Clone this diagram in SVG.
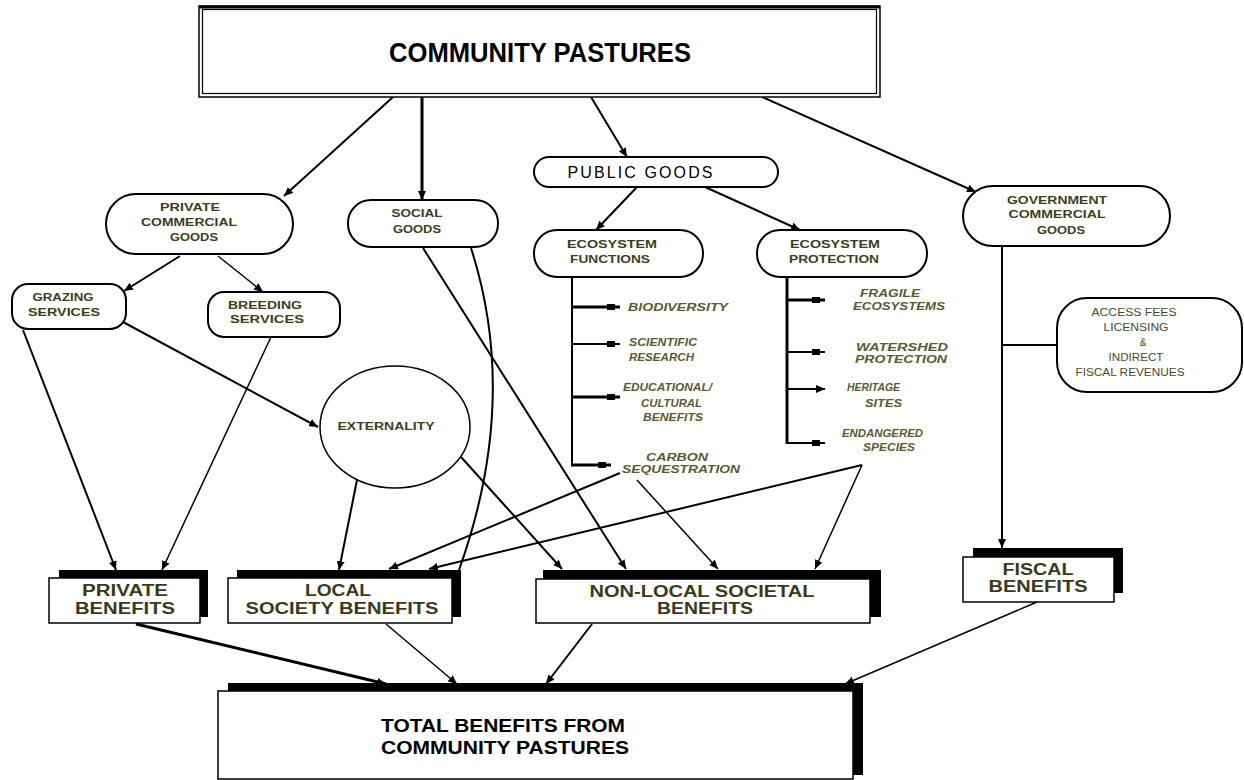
<svg xmlns="http://www.w3.org/2000/svg" width="1244" height="780" viewBox="0 0 1244 780">
<style>
.bg{fill:#fff}
.node{fill:#fff;stroke:#000;stroke-width:2}
.box{fill:#fff;stroke:#000;stroke-width:1.5}
.shadow{fill:#000}
.lbl{font-family:"Liberation Sans",Arial,sans-serif;font-weight:bold;font-size:11px;fill:#3e3e1c;text-anchor:middle}
.acc{font-family:"Liberation Sans",Arial,sans-serif;font-size:10px;fill:#4a4a2a;text-anchor:middle}
.ital{font-family:"Liberation Sans",Arial,sans-serif;font-weight:bold;font-style:italic;font-size:10px;fill:#5a5a30}
.big{font-family:"Liberation Sans",Arial,sans-serif;font-weight:bold;font-size:16px;fill:#3a3a18;text-anchor:middle}
.blk{font-family:"Liberation Sans",Arial,sans-serif;font-weight:bold;fill:#000;text-anchor:middle}
.c{fill:none;stroke:#000;stroke-width:2}
.t1{stroke-width:1.5}
.t3{stroke-width:3}
</style>
<defs>
<marker id="ah" markerUnits="userSpaceOnUse" markerWidth="9" markerHeight="8" refX="9" refY="4" orient="auto">
<path d="M0,0 L9,4 L0,8 z" fill="#000"/>
</marker>
<marker id="sq" markerUnits="userSpaceOnUse" markerWidth="14" markerHeight="7" refX="13" refY="3.5" orient="auto">
<path d="M0,0.5 h8 v6 h-8 z" fill="#000"/>
</marker>
</defs>
<rect class="bg" x="0" y="0" width="1244" height="780"/>

<g id="connectors">
<line class="c" x1="393" y1="97" x2="284" y2="196" marker-end="url(#ah)"/>
<line class="c t3" x1="422" y1="97" x2="422" y2="200" marker-end="url(#ah)"/>
<line class="c" x1="591" y1="97" x2="627" y2="157" marker-end="url(#ah)"/>
<line class="c" x1="762" y1="97" x2="976" y2="192" marker-end="url(#ah)"/>
<line class="c" x1="637" y1="187" x2="596" y2="230" marker-end="url(#ah)"/>
<line class="c" x1="705" y1="187" x2="800" y2="230" marker-end="url(#ah)"/>
<line class="c" x1="180" y1="256" x2="124" y2="291" marker-end="url(#ah)"/>
<line class="c t1" x1="218" y1="256" x2="263" y2="292" marker-end="url(#ah)"/>
<line class="c" x1="123" y1="322" x2="318" y2="427" marker-end="url(#ah)"/>
<line class="c" x1="23" y1="330" x2="116" y2="570" marker-end="url(#ah)"/>
<line class="c t1" x1="271" y1="337" x2="162" y2="570" marker-end="url(#ah)"/>
<line class="c" x1="357" y1="480" x2="339" y2="570" marker-end="url(#ah)"/>
<line class="c" x1="461" y1="457" x2="562" y2="569" marker-end="url(#ah)"/>
<line class="c" x1="423" y1="248" x2="626" y2="569" marker-end="url(#ah)"/>
<path class="c" d="M471,248 Q520,400 459,570"/>
<line class="c" x1="620" y1="473" x2="389" y2="569" marker-end="url(#ah)"/>
<line class="c" x1="862" y1="465" x2="429" y2="569" marker-end="url(#ah)"/>
<line class="c t1" x1="637" y1="480" x2="718" y2="569" marker-end="url(#ah)"/>
<line class="c t1" x1="862" y1="465" x2="815" y2="569" marker-end="url(#ah)"/>
<line class="c" x1="1002" y1="246" x2="1002" y2="548" marker-end="url(#ah)"/>
<line class="c" x1="1002" y1="345" x2="1057" y2="345"/>
<line class="c t3" x1="136" y1="624" x2="386" y2="684" marker-end="url(#ah)"/>
<line class="c t1" x1="386" y1="624" x2="457" y2="684" marker-end="url(#ah)"/>
<line class="c" x1="592" y1="624" x2="546" y2="684" marker-end="url(#ah)"/>
<line class="c t1" x1="1037" y1="602" x2="845" y2="684" marker-end="url(#ah)"/>
<!-- ecosystem functions tree -->
<line class="c" x1="572" y1="277" x2="572" y2="466"/>
<line class="c t3" x1="571" y1="307" x2="620" y2="307" marker-end="url(#sq)"/>
<line class="c" x1="571" y1="344" x2="620" y2="344" marker-end="url(#sq)"/>
<line class="c t3" x1="571" y1="397" x2="620" y2="397" marker-end="url(#sq)"/>
<line class="c t3" x1="571" y1="465" x2="611" y2="465" marker-end="url(#sq)"/>
<!-- ecosystem protection tree -->
<line class="c t3" x1="787" y1="277" x2="787" y2="444"/>
<line class="c t3" x1="786" y1="300" x2="825" y2="300" marker-end="url(#sq)"/>
<line class="c" x1="786" y1="352" x2="825" y2="352" marker-end="url(#sq)"/>
<line class="c" x1="786" y1="389" x2="825" y2="389" marker-end="url(#ah)"/>
<line class="c" x1="786" y1="443" x2="825" y2="443" marker-end="url(#sq)"/>
</g>

<g id="community-pastures">
<rect x="199" y="6" width="681" height="91" fill="#fff" stroke="#000" stroke-width="1.5"/>
<rect x="202.5" y="9.5" width="674" height="84" fill="none" stroke="#000" stroke-width="1.2"/>
<line x1="199" y1="7" x2="880" y2="7" stroke="#000" stroke-width="3"/>
<text class="blk" x="540" y="62" font-size="27" textLength="302" lengthAdjust="spacingAndGlyphs">COMMUNITY PASTURES</text>
</g>

<g id="private-commercial-goods">
<rect class="node" x="106" y="194" width="187" height="60" rx="30"/>
<text class="lbl" x="190" y="211" textLength="60" lengthAdjust="spacingAndGlyphs">PRIVATE</text>
<text class="lbl" x="189" y="226" textLength="96" lengthAdjust="spacingAndGlyphs">COMMERCIAL</text>
<text class="lbl" x="194" y="241" textLength="48" lengthAdjust="spacingAndGlyphs">GOODS</text>
</g>

<g id="social-goods">
<rect class="node" x="348" y="200" width="150" height="47" rx="23"/>
<text class="lbl" x="417" y="217" textLength="51" lengthAdjust="spacingAndGlyphs">SOCIAL</text>
<text class="lbl" x="417" y="233" textLength="48" lengthAdjust="spacingAndGlyphs">GOODS</text>
</g>

<g id="public-goods">
<rect class="node" x="534" y="157" width="244" height="30" rx="15"/>
<text class="blk" x="640" y="178" font-size="16" font-weight="normal" style="font-weight:normal" textLength="145" lengthAdjust="spacing">PUBLIC GOODS</text>
</g>

<g id="government-commercial-goods">
<rect class="node" x="963" y="186" width="207" height="60" rx="30"/>
<text class="lbl" x="1057" y="204" textLength="100" lengthAdjust="spacingAndGlyphs">GOVERNMENT</text>
<text class="lbl" x="1057" y="218" textLength="97" lengthAdjust="spacingAndGlyphs">COMMERCIAL</text>
<text class="lbl" x="1061" y="234" textLength="48" lengthAdjust="spacingAndGlyphs">GOODS</text>
</g>

<g id="grazing-services">
<rect class="node" x="12" y="284" width="114" height="45" rx="16"/>
<text class="lbl" x="63" y="301" textLength="61" lengthAdjust="spacingAndGlyphs">GRAZING</text>
<text class="lbl" x="64" y="316" textLength="72" lengthAdjust="spacingAndGlyphs">SERVICES</text>
</g>

<g id="breeding-services">
<rect class="node" x="208" y="292" width="132" height="45" rx="16"/>
<text class="lbl" x="265" y="309" textLength="74" lengthAdjust="spacingAndGlyphs">BREEDING</text>
<text class="lbl" x="267" y="323" textLength="74" lengthAdjust="spacingAndGlyphs">SERVICES</text>
</g>

<g id="ecosystem-functions">
<rect class="node" x="534" y="230" width="169" height="47" rx="23"/>
<text class="lbl" x="612" y="248" textLength="90" lengthAdjust="spacingAndGlyphs">ECOSYSTEM</text>
<text class="lbl" x="610" y="263" textLength="80" lengthAdjust="spacingAndGlyphs">FUNCTIONS</text>
</g>

<g id="ecosystem-protection">
<rect class="node" x="757" y="230" width="170" height="47" rx="23"/>
<text class="lbl" x="835" y="248" textLength="90" lengthAdjust="spacingAndGlyphs">ECOSYSTEM</text>
<text class="lbl" x="834" y="263" textLength="90" lengthAdjust="spacingAndGlyphs">PROTECTION</text>
</g>

<g id="ef-items">
<text class="ital" x="628" y="311" textLength="100" lengthAdjust="spacingAndGlyphs">BIODIVERSITY</text>
<text class="ital" x="629" y="346" textLength="68" lengthAdjust="spacingAndGlyphs">SCIENTIFIC</text>
<text class="ital" x="629" y="361" textLength="65" lengthAdjust="spacingAndGlyphs">RESEARCH</text>
<text class="ital" x="623" y="391" textLength="89" lengthAdjust="spacingAndGlyphs">EDUCATIONAL/</text>
<text class="ital" x="641" y="407" textLength="61" lengthAdjust="spacingAndGlyphs">CULTURAL</text>
<text class="ital" x="643" y="421" textLength="60" lengthAdjust="spacingAndGlyphs">BENEFITS</text>
<text class="ital" x="646" y="461" textLength="62" lengthAdjust="spacingAndGlyphs">CARBON</text>
<text class="ital" x="622" y="473" textLength="118" lengthAdjust="spacingAndGlyphs">SEQUESTRATION</text>
</g>

<g id="ep-items">
<text class="ital" x="860" y="297" textLength="60" lengthAdjust="spacingAndGlyphs">FRAGILE</text>
<text class="ital" x="853" y="310" textLength="92" lengthAdjust="spacingAndGlyphs">ECOSYSTEMS</text>
<text class="ital" x="856" y="351" textLength="92" lengthAdjust="spacingAndGlyphs">WATERSHED</text>
<text class="ital" x="855" y="363" textLength="92" lengthAdjust="spacingAndGlyphs">PROTECTION</text>
<text class="ital" x="847" y="391" textLength="53" lengthAdjust="spacingAndGlyphs">HERITAGE</text>
<text class="ital" x="865" y="407" textLength="37" lengthAdjust="spacingAndGlyphs">SITES</text>
<text class="ital" x="842" y="437" textLength="81" lengthAdjust="spacingAndGlyphs">ENDANGERED</text>
<text class="ital" x="863" y="451" textLength="52" lengthAdjust="spacingAndGlyphs">SPECIES</text>
</g>

<g id="access-fees">
<rect class="node" x="1057" y="298" width="185" height="94" rx="30"/>
<text class="acc" x="1134" y="316" textLength="85" lengthAdjust="spacingAndGlyphs">ACCESS FEES</text>
<text class="acc" x="1136" y="331" textLength="65" lengthAdjust="spacingAndGlyphs">LICENSING</text>
<text class="acc" x="1143" y="346">&amp;</text>
<text class="acc" x="1136" y="361" textLength="55" lengthAdjust="spacingAndGlyphs">INDIRECT</text>
<text class="acc" x="1130" y="376" textLength="109" lengthAdjust="spacingAndGlyphs">FISCAL REVENUES</text>
</g>

<g id="externality">
<ellipse cx="395" cy="427" rx="75" ry="61" fill="#fff" stroke="#000" stroke-width="1.5"/>
<text class="lbl" x="386" y="430" font-size="10" textLength="97" lengthAdjust="spacingAndGlyphs">EXTERNALITY</text>
</g>

<g id="private-benefits">
<rect class="shadow" x="59" y="570" width="149" height="47"/>
<rect class="box" x="49" y="578" width="151" height="45"/>
<text class="big" x="125" y="596" textLength="86" lengthAdjust="spacingAndGlyphs">PRIVATE</text>
<text class="big" x="125" y="614" textLength="100" lengthAdjust="spacingAndGlyphs">BENEFITS</text>
</g>

<g id="local-society-benefits">
<rect class="shadow" x="237" y="570" width="224" height="47"/>
<rect class="box" x="228" y="578" width="224" height="45"/>
<text class="big" x="338" y="596" textLength="66" lengthAdjust="spacingAndGlyphs">LOCAL</text>
<text class="big" x="342" y="614" textLength="193" lengthAdjust="spacingAndGlyphs">SOCIETY BENEFITS</text>
</g>

<g id="non-local-societal-benefits">
<rect class="shadow" x="543" y="570" width="338" height="47"/>
<rect class="box" x="536" y="579" width="334" height="44"/>
<text class="big" x="702" y="597" textLength="225" lengthAdjust="spacingAndGlyphs">NON-LOCAL SOCIETAL</text>
<text class="big" x="705" y="614" textLength="96" lengthAdjust="spacingAndGlyphs">BENEFITS</text>
</g>

<g id="fiscal-benefits">
<rect class="shadow" x="973" y="548" width="150" height="45"/>
<rect class="box" x="963" y="557" width="151" height="45"/>
<text class="big" x="1038" y="575" textLength="71" lengthAdjust="spacingAndGlyphs">FISCAL</text>
<text class="big" x="1038" y="592" textLength="99" lengthAdjust="spacingAndGlyphs">BENEFITS</text>
</g>

<g id="total-benefits">
<rect class="shadow" x="228" y="683" width="635" height="92"/>
<rect class="box" x="218" y="691" width="635" height="88"/>
<text class="blk" x="503" y="732" font-size="18" textLength="244" lengthAdjust="spacingAndGlyphs">TOTAL BENEFITS FROM</text>
<text class="blk" x="505" y="754" font-size="18" textLength="248" lengthAdjust="spacingAndGlyphs">COMMUNITY PASTURES</text>
</g>
</svg>
